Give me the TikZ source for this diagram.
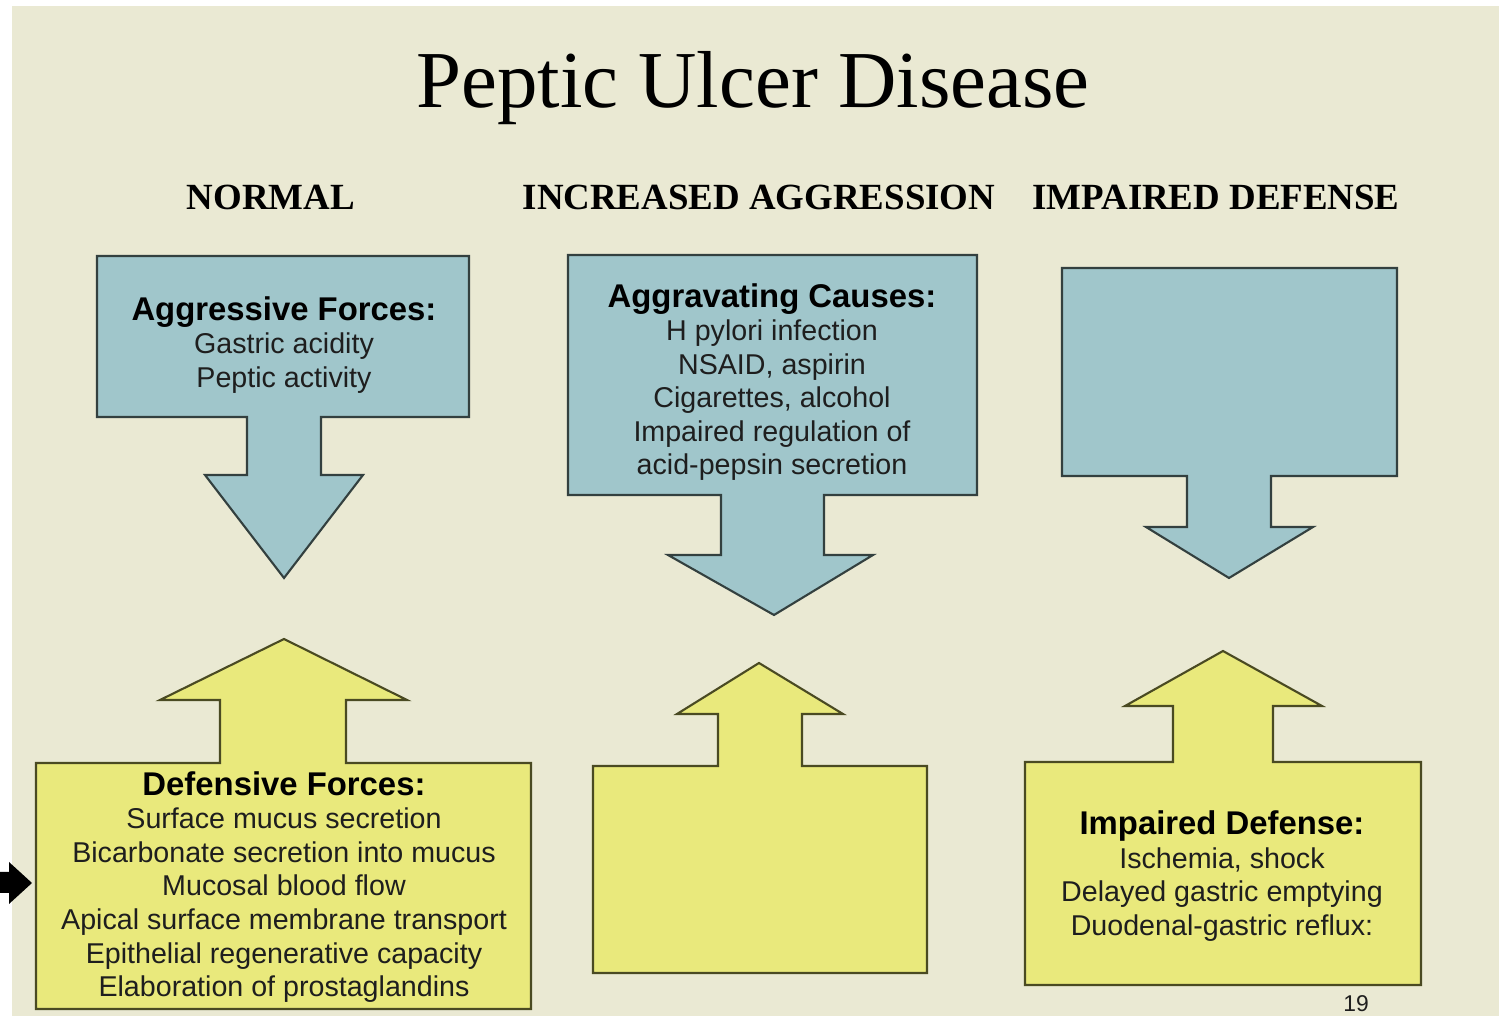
\documentclass[tikz,border=0pt]{standalone}
\usepackage{fontspec}
\setmainfont{Liberation Serif}
\newfontfamily\arialf{Liberation Sans}
\definecolor{slidebg}{HTML}{EAE9D3}
\definecolor{bluefill}{HTML}{A0C6CB}
\definecolor{yelfill}{HTML}{E9E97C}
\definecolor{blueline}{HTML}{33403F}
\definecolor{yelline}{HTML}{4A4A22}
\definecolor{txt}{HTML}{1E1E1E}
\tikzset{
  bluebox/.style={fill=bluefill, draw=blueline, line width=1.2pt, line join=miter},
  yelbox/.style={fill=yelfill, draw=yelline, line width=1.2pt, line join=miter},
  heading/.style={font=\bfseries\fontsize{21}{24}\selectfont, text=black, anchor=base, inner sep=0pt},
  boxtext/.style={font=\arialf\fontsize{16.3}{19.1}\selectfont, text=txt, align=center, inner sep=0pt},
}
\newcommand{\bhead}[1]{{\bfseries\fontsize{18.7}{19.1}\selectfont\color{black}#1}}
\begin{document}
\begin{tikzpicture}[x=0.02cm, y=-0.02cm]
\useasboundingbox (0,0) rectangle (1499,1016);
\fill[white] (0,0) rectangle (1499,1016);
\fill[slidebg] (12,6) rectangle (1499,1016);

% title and column headings
\node[anchor=base, inner sep=0pt, font=\fontsize{46}{50}\selectfont] (title) at (753,108) {Peptic Ulcer Disease};
\node[heading] (hnormal) at (271,210) {NORMAL};
\node[heading] (hinc) at (759,210) {INCREASED AGGRESSION};
\node[heading] (himp) at (1216,210) {IMPAIRED DEFENSE};

% blue down-arrow boxes
\draw[bluebox] (97,256) -- (469,256) -- (469,417) -- (321,417) -- (321,475) -- (363,475)
  -- (284,578) -- (205,475) -- (247,475) -- (247,417) -- (97,417) -- cycle;
\draw[bluebox] (568,255) -- (977,255) -- (977,495) -- (824,495) -- (824,555) -- (873,555)
  -- (774,615) -- (668,555) -- (721,555) -- (721,495) -- (568,495) -- cycle;
\draw[bluebox] (1062,268) -- (1397,268) -- (1397,476) -- (1271,476) -- (1271,527) -- (1313,527)
  -- (1229,578) -- (1146,527) -- (1187,527) -- (1187,476) -- (1062,476) -- cycle;

% yellow up-arrow boxes
\draw[yelbox] (36,763) -- (220,763) -- (220,700) -- (160,700) -- (284,639) -- (407,700)
  -- (346,700) -- (346,763) -- (531,763) -- (531,1009) -- (36,1009) -- cycle;
\draw[yelbox] (593,766) -- (718,766) -- (718,714) -- (677,714) -- (759,663) -- (843,714)
  -- (802,714) -- (802,766) -- (927,766) -- (927,973) -- (593,973) -- cycle;
\draw[yelbox] (1025,762) -- (1173,762) -- (1173,706) -- (1125,706) -- (1223,651) -- (1322,706)
  -- (1273,706) -- (1273,762) -- (1421,762) -- (1421,985) -- (1025,985) -- cycle;

% box texts
\node[boxtext] (aggr) at (284,345) {\bhead{Aggressive Forces:}\\ Gastric acidity\\ Peptic activity};
\node[boxtext] (caus) at (772,382) {\bhead{Aggravating Causes:}\\ H pylori infection\\ NSAID, aspirin\\
  Cigarettes, alcohol\\ Impaired regulation of\\ acid-pepsin secretion};
\node[boxtext] (defn) at (284,887) {\bhead{Defensive Forces:}\\ Surface mucus secretion\\
  Bicarbonate secretion into mucus\\ Mucosal blood flow\\ Apical surface membrane transport\\
  Epithelial regenerative capacity\\ Elaboration of prostaglandins};
\node[boxtext] (impd) at (1222,876) {\bhead{Impaired Defense:}\\ Ischemia, shock\\
  Delayed gastric emptying\\ Duodenal-gastric reflux:};

% page number
\node[anchor=base, inner sep=0pt, font=\arialf\fontsize{13}{15}\selectfont, text=txt] (pnum) at (1356,1011) {19};

% black pointer arrow on the left edge
\fill[black] (0,872) -- (9,872) -- (9,862) -- (32,883) -- (9,904) -- (9,893) -- (0,893) -- cycle;
\end{tikzpicture}
\end{document}
